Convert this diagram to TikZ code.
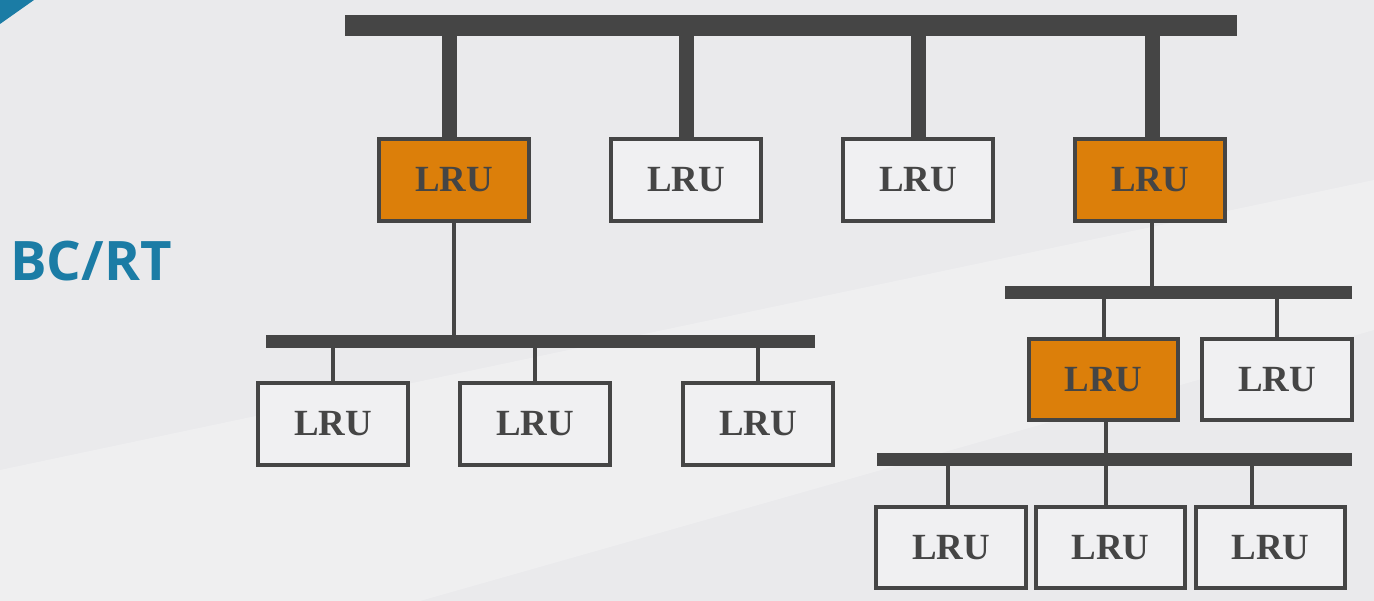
\documentclass[tikz,border=0pt]{standalone}
\usepackage{fontspec}
\setmainfont{Liberation Serif}
\newfontfamily\titlefont{Open Sans}
\usepackage{tikz}

\definecolor{busgray}{HTML}{454545}
\definecolor{lruorange}{HTML}{DC7F0A}
\definecolor{bcblue}{HTML}{1B7CA5}
\definecolor{bggray}{HTML}{EAEAEC}
\definecolor{boxfill}{HTML}{F0F0F2}

\begin{document}
\begin{tikzpicture}[
x=0.02cm, y=-0.02cm,
lru/.style={draw=busgray, line width=0.08cm, rectangle, minimum width=3cm, minimum height=1.64cm, fill=boxfill, text=busgray, font=\fontsize{21}{24}\selectfont\bfseries},
active/.style={lru, fill=lruorange},
mainbus/.style={busgray, line width=0.42cm},
subbus/.style={busgray, line width=0.26cm},
maindrop/.style={busgray, line width=0.3cm},
drop/.style={busgray, line width=0.08cm}
]

% background
\fill[bggray] (0,0) rectangle (1374,601);
\useasboundingbox (0,0) rectangle (1374,601);
\fill[white, opacity=0.25] (0,601) -- (0,470) -- (1374,180) -- (1374,330) -- (420,601) -- cycle;
\fill[bcblue] (0,0) -- (34,0) -- (0,24) -- cycle;

\node[text=bcblue, font=\titlefont\fontsize{31}{34}\selectfont\bfseries] (title) at (91,261) {BC/RT};

% buses
\coordinate (topL) at (345,25.5);
\coordinate (topR) at (1237,25.5);
\coordinate (leftL) at (266,341.5);
\coordinate (leftR) at (815,341.5);
\coordinate (busAL) at (1005,293);
\coordinate (busAR) at (1352,293);
\coordinate (busBL) at (877,459.5);
\coordinate (busBR) at (1352,459.5);

% boxes
\node[active] (lru1) at (454,180) {LRU};
\node[lru] (lru2) at (686,180) {LRU};
\node[lru] (lru3) at (918,180) {LRU};
\node[active] (lru4) at (1150,180) {LRU};

\node[lru] (lru11) at (333,424) {LRU};
\node[lru] (lru12) at (535,424) {LRU};
\node[lru] (lru13) at (758,424) {LRU};

\node[active] (lru41) at (1103.5,379.5) {LRU};
\node[lru] (lru42) at (1277,379.5) {LRU};

\node[lru] (lru411) at (951,547.5) {LRU};
\node[lru] (lru412) at (1110.5,547.5) {LRU};
\node[lru] (lru413) at (1270.5,547.5) {LRU};

% top level
\draw[mainbus] (topL) -- (topR);
\draw[maindrop] ([xshift=-0.1cm]lru1.north) -- ([xshift=-0.1cm]lru1.north |- topL);
\draw[maindrop] (lru2.north) -- (lru2.north |- topL);
\draw[maindrop] (lru3.north) -- (lru3.north |- topL);
\draw[maindrop] ([xshift=0.04cm]lru4.north) -- ([xshift=0.04cm]lru4.north |- topL);

% left branch
\draw[subbus] (leftL) -- (leftR);
\draw[drop] (lru1.south) -- (lru1.south |- leftL);
\foreach \n in {lru11,lru12,lru13}
  \draw[drop] (\n.north) -- (\n.north |- leftL);

% right branch
\draw[subbus] (busAL) -- (busAR);
\draw[drop] ([xshift=0.04cm]lru4.south) -- ([xshift=0.04cm]lru4.south |- busAL);
\draw[drop] (lru41.north) -- (lru41.north |- busAL);
\draw[drop] (lru42.north) -- (lru42.north |- busAL);

\draw[subbus] (busBL) -- (busBR);
\draw[drop] ([xshift=0.05cm]lru41.south) -- ([xshift=0.05cm]lru41.south |- busBL);
\draw[drop] ([xshift=-0.06cm]lru411.north) -- ([xshift=-0.06cm]lru411.north |- busBL);
\draw[drop] ([xshift=-0.09cm]lru412.north) -- ([xshift=-0.09cm]lru412.north |- busBL);
\draw[drop] ([xshift=-0.38cm]lru413.north) -- ([xshift=-0.38cm]lru413.north |- busBL);

\end{tikzpicture}
\end{document}
